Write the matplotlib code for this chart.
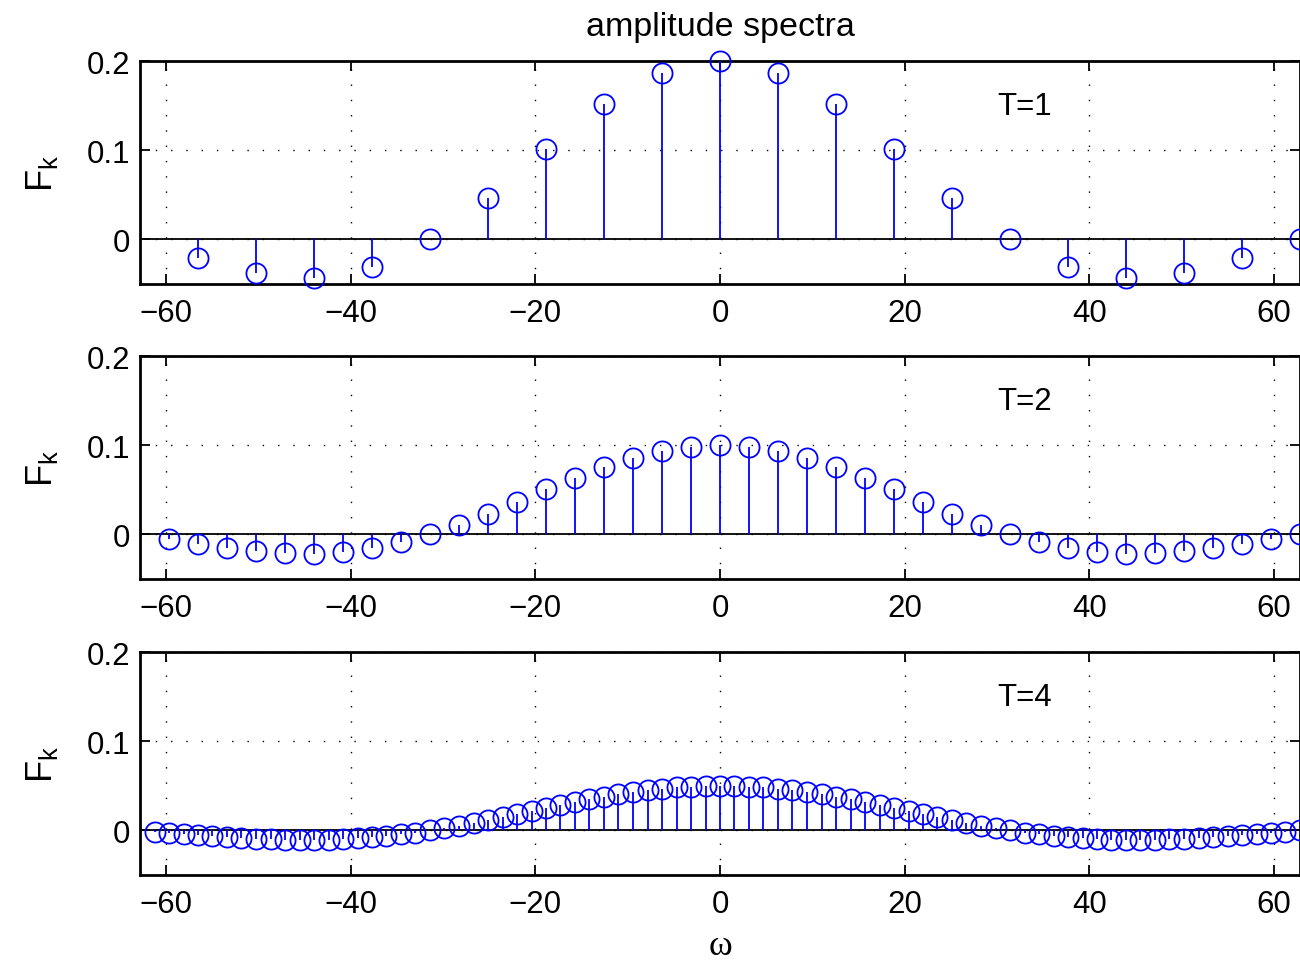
import matplotlib
matplotlib.use("Agg")
import matplotlib.pyplot as plt
import numpy as np

plt.rcParams['font.family'] = ['Liberation Sans', 'DejaVu Sans']
plt.rcParams['mathtext.fontset'] = 'custom'
plt.rcParams['mathtext.rm'] = 'Liberation Sans'

# T = 1 : spacing 2*pi
w1 = [-56.55, -50.27, -43.98, -37.70, -31.42, -25.13, -18.85, -12.57, -6.28, 0.0,
      6.28, 12.57, 18.85, 25.13, 31.42, 37.70, 43.98, 50.27, 56.55, 62.83]
F1 = [-0.0208, -0.0378, -0.0432, -0.0312, 0.0, 0.0468, 0.1009, 0.1514, 0.1871, 0.2,
      0.1871, 0.1514, 0.1009, 0.0468, 0.0, -0.0312, -0.0432, -0.0378, -0.0208, 0.0]

# T = 2 : spacing pi
w2 = [-59.69, -56.55, -53.41, -50.27, -47.12, -43.98, -40.84, -37.70, -34.56, -31.42,
      -28.27, -25.13, -21.99, -18.85, -15.71, -12.57, -9.42, -6.28, -3.14, 0.0,
      3.14, 6.28, 9.42, 12.57, 15.71, 18.85, 21.99, 25.13, 28.27, 31.42,
      34.56, 37.70, 40.84, 43.98, 47.12, 50.27, 53.41, 56.55, 59.69, 62.83]
F2 = [-0.0052, -0.0104, -0.0151, -0.0189, -0.0212, -0.0216, -0.0198, -0.0156, -0.0089, 0.0,
      0.0109, 0.0234, 0.0368, 0.0505, 0.0637, 0.0757, 0.0858, 0.0935, 0.0984, 0.1,
      0.0984, 0.0935, 0.0858, 0.0757, 0.0637, 0.0505, 0.0368, 0.0234, 0.0109, 0.0,
      -0.0089, -0.0156, -0.0198, -0.0216, -0.0212, -0.0189, -0.0151, -0.0104, -0.0052, 0.0]

# T = 4 : spacing pi/2
w4 = [-61.26, -59.69, -58.12, -56.55, -54.98, -53.41, -51.84, -50.27, -48.69, -47.12,
      -45.55, -43.98, -42.41, -40.84, -39.27, -37.70, -36.13, -34.56, -32.99, -31.42,
      -29.85, -28.27, -26.70, -25.13, -23.56, -21.99, -20.42, -18.85, -17.28, -15.71,
      -14.14, -12.57, -11.00, -9.42, -7.85, -6.28, -4.71, -3.14, -1.57, 0.0,
      1.57, 3.14, 4.71, 6.28, 7.85, 9.42, 11.00, 12.57, 14.14, 15.71,
      17.28, 18.85, 20.42, 21.99, 23.56, 25.13, 26.70, 28.27, 29.85, 31.42,
      32.99, 34.56, 36.13, 37.70, 39.27, 40.84, 42.41, 43.98, 45.55, 47.12,
      48.69, 50.27, 51.84, 53.41, 54.98, 56.55, 58.12, 59.69, 61.26, 62.83]
F4 = [-0.00128, -0.00259, -0.00391, -0.00520, -0.00643, -0.00757, -0.00859, -0.00946, -0.01014, -0.01061,
      -0.01084, -0.01081, -0.01050, -0.00990, -0.00900, -0.00780, -0.00628, -0.00447, -0.00237, 0.0,
      0.00262, 0.00546, 0.00850, 0.01169, 0.01501, 0.01839, 0.02182, 0.02523, 0.02858, 0.03183,
      0.03493, 0.03784, 0.04052, 0.04292, 0.04502, 0.04677, 0.04817, 0.04918, 0.04980, 0.05,
      0.04980, 0.04918, 0.04817, 0.04677, 0.04502, 0.04292, 0.04052, 0.03784, 0.03493, 0.03183,
      0.02858, 0.02523, 0.02182, 0.01839, 0.01501, 0.01169, 0.00850, 0.00546, 0.00262, 0.0,
      -0.00237, -0.00447, -0.00628, -0.00780, -0.00900, -0.00990, -0.01050, -0.01081, -0.01084, -0.01061,
      -0.01014, -0.00946, -0.00859, -0.00757, -0.00643, -0.00520, -0.00391, -0.00259, -0.00128, 0.0]

series = [(w1, F1, 'T=1'), (w2, F2, 'T=2'), (w4, F4, 'T=4')]
xticks = [-60, -40, -20, 0, 20, 40, 60]
yticks = [0, 0.1, 0.2]

fig = plt.figure(figsize=(13, 9.62), dpi=100)
bottoms = [0.7037, 0.397, 0.0894]

for (w, F, lab), b in zip(series, bottoms):
    ax = fig.add_axes([0.1077, b, 0.8923, 0.2318])
    # stems
    ax.vlines(w, 0, F, color='blue', lw=1.3, zorder=3)
    ax.plot(w, F, 'o', mfc='none', mec='blue', ms=14.5, mew=1.3, zorder=4,
            clip_on=False)
    ax.axhline(0, color='black', lw=1.3, zorder=2)
    ax.set_xlim(-20 * np.pi, 20 * np.pi)
    ax.set_ylim(-0.05, 0.2)
    ax.set_xticks(xticks)
    ax.set_xticklabels([str(t).replace('-', '\u2212') for t in xticks])
    ax.set_yticks(yticks)
    ax.set_yticklabels(['0', '0.1', '0.2'])
    ax.grid(True, linestyle=(0, (1, 10)), color='black', lw=1.0)
    ax.tick_params(direction='in', length=7, width=1.3, labelsize=22.5,
                   top=True, right=True)
    ax.tick_params(axis='x', pad=10)
    ax.tick_params(axis='y', pad=7)
    for s in ax.spines.values():
        s.set_linewidth(2)
    ax.set_ylabel('F$_\\mathregular{k}$', fontsize=26, labelpad=19)
    ax.text(33, 0.15, lab, fontsize=22.5, ha='center', va='center')
    if b == bottoms[0]:
        ax.set_title('amplitude spectra', fontsize=24.5, pad=19)
    if b == bottoms[-1]:
        ax.set_xlabel('\u03c9', fontsize=26, family=['Liberation Serif', 'DejaVu Serif'],
                      labelpad=7)

fig.savefig('out.png', dpi=100)
